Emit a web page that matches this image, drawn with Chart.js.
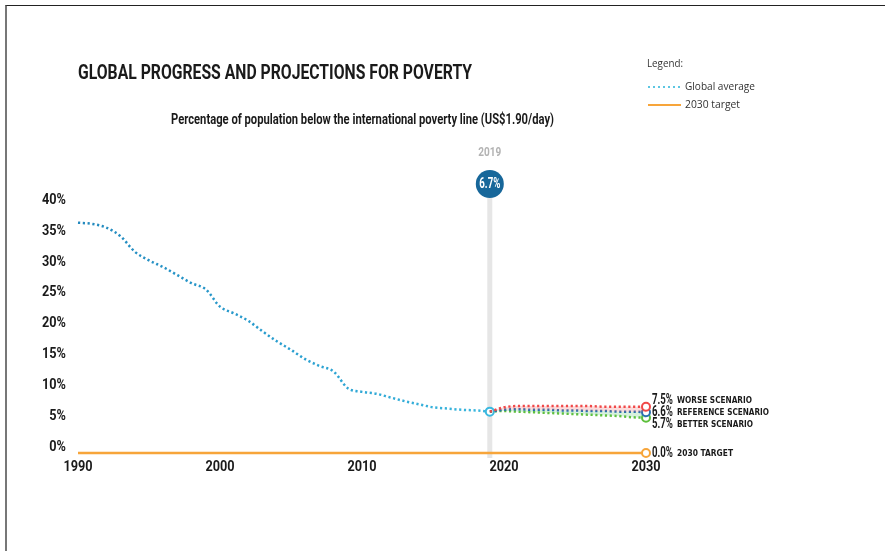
<!DOCTYPE html>
<html>
<head>
<meta charset="utf-8">
<script src="https://cdn.jsdelivr.net/npm/chart.js@4.4.0/dist/chart.umd.min.js"></script>
<style>
  html, body { margin: 0; padding: 0; background: #fff; }
  #frame {
    position: absolute; left: 5px; top: 5px; width: 880px; height: 546px;
    border-top: 1px solid #222; border-left: 2px solid #777; box-sizing: border-box;
  }
  #chart { position: absolute; left: 0; top: 0; }
</style>
</head>
<body>
<div id="frame"></div>
<canvas id="chart" width="885" height="551"></canvas>
<script>
// history 1990-2019
const years = [1990, 1991, 1992, 1993, 1994, 1995, 1996, 1997, 1998, 1999,
  2000, 2001, 2002, 2003, 2004, 2005, 2006, 2007, 2008, 2009,
  2010, 2011, 2012, 2013, 2014, 2015, 2016, 2017, 2018, 2019];
const globalAvg = [37.3, 37.1, 36.5, 35.1, 32.6, 31.2, 30.1, 28.8, 27.5, 26.5,
  23.7, 22.6, 21.4, 19.7, 18.1, 16.7, 15.2, 14.1, 13.2, 10.5,
  9.9, 9.6, 9.0, 8.4, 7.9, 7.4, 7.2, 7.0, 6.9, 6.7];

// projections 2019-2030
const projYears = [2019, 2020, 2021, 2022, 2023, 2024, 2025, 2026, 2027, 2028, 2029, 2030];
const worse = [6.7, 7.4, 7.6, 7.6, 7.6, 7.6, 7.6, 7.6, 7.5, 7.5, 7.5, 7.5];
const reference = [6.7, 7.0, 7.1, 7.0, 7.0, 6.9, 6.9, 6.8, 6.8, 6.7, 6.7, 6.6];
const better = [6.7, 6.8, 6.7, 6.6, 6.5, 6.4, 6.3, 6.2, 6.1, 6.0, 5.8, 5.7];

const targetYears = [1990, 2030];
const target = [0, 0];

const xTicks = [1990, 2000, 2010, 2020, 2030];
const yTicks = [0, 5, 10, 15, 20, 25, 30, 35, 40];

const highlightYear = 2019;
const highlightValue = "6.7%";

const fam = "Roboto, 'DejaVu Sans', sans-serif";
const red = "#f04848";
const navy = "#2a6fb0";
const green = "#5cbf3a";
const orange = "#f7a53a";
const ink = "#1a1a1a";

const toPts = (xs, ys) => xs.map((x, i) => ({ x, y: ys[i] }));
const lastOnly = (n, r) => (c) => (c.dataIndex === n - 1 ? r : 0);

// draws text squeezed horizontally, by target width (w) or by factor (sx)
function squeeze(ctx, text, x, y, opts) {
  ctx.save();
  ctx.font = opts.font;
  ctx.fillStyle = opts.color || ink;
  ctx.textBaseline = "middle";
  ctx.textAlign = "left";
  const m = ctx.measureText(text).width;
  const sx = opts.w ? opts.w / m : opts.sx;
  const w = m * sx;
  let left = x;
  if (opts.align === "center") left = x - w / 2;
  if (opts.align === "right") left = x - w;
  ctx.translate(left, y);
  ctx.scale(sx, 1);
  ctx.fillText(text, 0, 0);
  ctx.restore();
}

const decorations = {
  id: "decorations",
  beforeDatasetsDraw(chart) {
    const { ctx, scales } = chart;
    const x = scales.x.getPixelForValue(highlightYear);
    ctx.save();
    ctx.strokeStyle = "#e6e6e6";
    ctx.lineWidth = 5;
    ctx.beginPath();
    ctx.moveTo(x, 198);
    ctx.lineTo(x, 458);
    ctx.stroke();
    ctx.restore();
  },
  afterDraw(chart) {
    const { ctx, scales, chartArea } = chart;
    const x = scales.x.getPixelForValue(highlightYear);
    const tickFont = "bold 15px " + fam;
    ctx.font = tickFont;
    const tsx = 24 / ctx.measureText("40%").width;

    // axis labels, taken from the scales' ticks
    scales.y.ticks.forEach((t) => {
      squeeze(ctx, t.value + "%", chartArea.left - 12, scales.y.getPixelForValue(t.value) - 6,
        { font: tickFont, sx: tsx, align: "right" });
    });
    scales.x.ticks.forEach((t) => {
      squeeze(ctx, String(t.value), scales.x.getPixelForValue(t.value), chartArea.bottom + 14,
        { font: tickFont, sx: tsx, align: "center" });
    });

    // titles
    squeeze(ctx, "GLOBAL PROGRESS AND PROJECTIONS FOR POVERTY", 78, 74,
      { w: 394, font: "bold 21px " + fam });
    squeeze(ctx, "Percentage of population below the international poverty line (US$1.90/day)",
      171, 120, { w: 383, font: "bold 14px " + fam });

    // legend
    const lf = "11px 'Open Sans', sans-serif";
    squeeze(ctx, "Legend:", 647, 64, { w: 36, font: lf, color: "#333" });
    squeeze(ctx, "Global average", 685, 87, { w: 70, font: lf, color: "#333" });
    squeeze(ctx, "2030 target", 685, 105, { w: 55, font: lf, color: "#333" });
    ctx.save();
    ctx.lineWidth = 2;
    ctx.strokeStyle = "#5cc6e2";
    ctx.setLineDash([2, 3]);
    ctx.beginPath(); ctx.moveTo(648, 87); ctx.lineTo(681, 87); ctx.stroke();
    ctx.setLineDash([]);
    ctx.strokeStyle = orange;
    ctx.beginPath(); ctx.moveTo(648, 105); ctx.lineTo(681, 105); ctx.stroke();
    ctx.restore();

    // highlight bubble
    squeeze(ctx, String(highlightYear), x, 153, { w: 23, font: "bold 13px " + fam, color: "#b3b3b3", align: "center" });
    ctx.save();
    ctx.fillStyle = "#17679a";
    ctx.beginPath();
    ctx.arc(x, 184, 14, 0, Math.PI * 2);
    ctx.fill();
    ctx.restore();
    squeeze(ctx, highlightValue, x, 184, { w: 21, font: "bold 15px " + fam, color: "#fff", align: "center" });

    // end labels
    const rows = [
      [worse[worse.length - 1], "WORSE SCENARIO", 400, 75],
      [reference[reference.length - 1], "REFERENCE SCENARIO", 412, 92],
      [better[better.length - 1], "BETTER SCENARIO", 424, 76],
      [target[target.length - 1], "2030 TARGET", 453, 56]
    ];
    rows.forEach(([v, label, y, w]) => {
      squeeze(ctx, v.toFixed(1) + "%", 652, y, { w: 21, font: "bold 15px " + fam });
      squeeze(ctx, label, 677, y + 1, { w: w, font: "bold 8px 'DejaVu Sans', sans-serif" });
    });
  }
};

const dotted = {
  borderWidth: 2.5,
  borderDash: [2.2, 2.6],
  borderCapStyle: "butt",
  cubicInterpolationMode: "monotone",
  pointBackgroundColor: "#fff",
  pointBorderWidth: 2,
  clip: false
};

function avgColor(c) {
  const area = c.chart.chartArea;
  if (!area) return "#2ea8d8";
  const g = c.chart.ctx.createLinearGradient(area.left, 0, area.left + 420, 0);
  g.addColorStop(0, "#2389be");
  g.addColorStop(0.5, "#2a9fd0");
  g.addColorStop(1, "#3bb8df");
  return g;
}

const chart = new Chart(document.getElementById("chart").getContext("2d"), {
  type: "line",
  data: {
    datasets: [
      {
        ...dotted,
        data: toPts(projYears, worse),
        borderColor: red,
        pointBorderColor: red,
        pointRadius: lastOnly(projYears.length, 4),
        fill: "+1",
        backgroundColor: "rgba(240, 90, 90, 0.22)"
      },
      {
        ...dotted,
        data: toPts(projYears, reference),
        borderColor: navy,
        pointBorderColor: navy,
        pointRadius: lastOnly(projYears.length, 4),
        fill: "+1",
        backgroundColor: "rgba(100, 200, 120, 0.25)"
      },
      {
        ...dotted,
        data: toPts(projYears, better),
        borderColor: green,
        pointBorderColor: green,
        pointRadius: lastOnly(projYears.length, 4),
        fill: false
      },
      {
        ...dotted,
        data: toPts(years, globalAvg),
        borderColor: avgColor,
        pointBorderColor: "#3bb8df",
        pointRadius: lastOnly(years.length, 4),
        fill: false
      },
      {
        data: toPts(targetYears, target),
        borderColor: orange,
        borderWidth: 2.5,
        pointRadius: lastOnly(targetYears.length, 4),
        pointBackgroundColor: "#fff",
        pointBorderColor: orange,
        pointBorderWidth: 2,
        fill: false,
        clip: false
      }
    ]
  },
  options: {
    responsive: false,
    animation: false,
    layout: { padding: { left: 0, top: 206, right: 239, bottom: 0 } },
    plugins: {
      legend: { display: false },
      tooltip: { enabled: false }
    },
    scales: {
      x: {
        type: "linear",
        min: 1990,
        max: 2030,
        afterBuildTicks: (s) => { s.ticks = xTicks.map((v) => ({ value: v })); },
        afterFit: (s) => { s.height = 98; },
        grid: { display: false, drawTicks: false },
        border: { display: false },
        ticks: { display: false }
      },
      y: {
        min: 0,
        max: 40,
        afterBuildTicks: (s) => { s.ticks = yTicks.map((v) => ({ value: v })); },
        afterFit: (s) => { s.width = 78; },
        grid: { display: false, drawTicks: false },
        border: { display: false },
        ticks: { display: false }
      }
    }
  },
  plugins: [decorations]
});
</script>
</body>
</html>
